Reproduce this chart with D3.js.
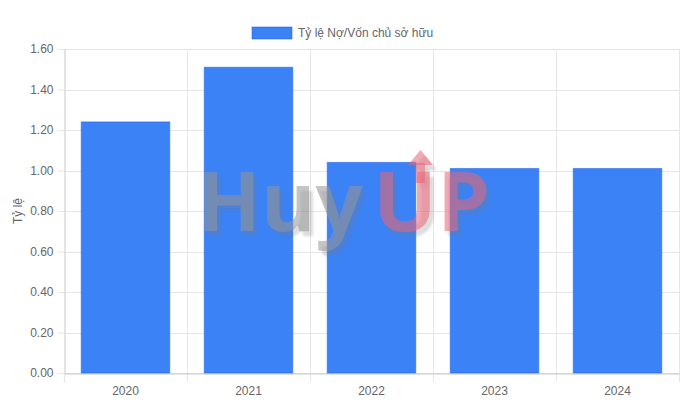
<!DOCTYPE html>
<html>
<head>
<meta charset="utf-8">
<script src="https://cdn.jsdelivr.net/npm/d3@7"></script>
<style>
  html, body { margin: 0; padding: 0; background: #fff; }
  svg { display: block; font-family: "Liberation Sans", Arial, Helvetica, sans-serif; }
</style>
</head>
<body>
<div id="chart"></div>
<script>
// Data
const years = ["2020", "2021", "2022", "2023", "2024"];
const debtToEquity = [1.24, 1.51, 1.04, 1.01, 1.01];
const yTicks = [0, 0.2, 0.4, 0.6, 0.8, 1.0, 1.2, 1.4, 1.6];
const seriesName = "Tỷ lệ Nợ/Vốn chủ sở hữu";
const yTitle = "Tỷ lệ";

const W = 686, H = 403;
const margin = { top: 49, right: 7, bottom: 30, left: 64 };
const innerW = W - margin.left - margin.right;
const innerH = H - margin.top - margin.bottom;

const svg = d3.select("#chart").append("svg")
    .attr("width", W)
    .attr("height", H);

// soft shadow used by the watermark
svg.append("defs").append("filter")
    .attr("id", "wmShadow")
    .attr("x", "-10%").attr("y", "-10%")
    .attr("width", "130%").attr("height", "130%")
    .append("feDropShadow")
    .attr("dx", 4).attr("dy", 5)
    .attr("stdDeviation", 0.8)
    .attr("flood-color", "#777")
    .attr("flood-opacity", 0.45);

const g = svg.append("g")
    .attr("transform", `translate(${margin.left},${margin.top})`);

const x = d3.scaleBand()
    .domain(years)
    .range([0, innerW]);

const y = d3.scaleLinear()
    .domain([0, 1.6])
    .range([innerH, 0]);

const gridColor = "#e6e6e6";
const axisColor = "#c8c8c8";
const textColor = "#666";

// horizontal grid
g.append("g")
    .selectAll("line")
    .data(yTicks)
    .join("line")
    .attr("x1", 0)
    .attr("x2", innerW)
    .attr("y1", d => Math.round(y(d)) + 0.5)
    .attr("y2", d => Math.round(y(d)) + 0.5)
    .attr("stroke", gridColor);

// vertical grid at category boundaries
const bounds = years.map(d => x(d)).concat([innerW]);
g.append("g")
    .selectAll("line")
    .data(bounds.slice(1))
    .join("line")
    .attr("x1", d => Math.round(d) + 0.5)
    .attr("x2", d => Math.round(d) + 0.5)
    .attr("y1", 0)
    .attr("y2", innerH + 9)
    .attr("stroke", gridColor);

// y axis
const yAxis = g.append("g")
    .attr("transform", "translate(0.5,0)")
    .call(d3.axisLeft(y).tickValues(yTicks).tickFormat(d3.format(".2f")).tickSize(7).tickSizeOuter(0));
yAxis.select(".domain").attr("stroke", axisColor);
yAxis.selectAll(".tick line").attr("stroke", gridColor);
yAxis.selectAll(".tick text")
    .attr("fill", textColor)
    .attr("font-size", 12)
    .attr("x", -11);

// x axis
const xAxis = g.append("g")
    .attr("transform", `translate(0,${Math.round(innerH) + 0.5})`)
    .call(d3.axisBottom(x).tickSize(0).tickSizeOuter(0));
xAxis.select(".domain").attr("stroke", axisColor);
xAxis.selectAll(".tick text")
    .attr("fill", textColor)
    .attr("font-size", 12)
    .attr("dy", 0)
    .attr("y", 21);
xAxis.append("line")
    .attr("x1", 0.5).attr("x2", 0.5)
    .attr("y1", 0).attr("y2", 9)
    .attr("stroke", gridColor);

// bars: categoryPercentage 0.8 * barPercentage 0.9
const barW = x.bandwidth() * 0.72;
g.append("g")
    .selectAll("rect")
    .data(debtToEquity)
    .join("rect")
    .attr("x", (d, i) => x(years[i]) + (x.bandwidth() - barW) / 2)
    .attr("y", d => y(d))
    .attr("width", barW)
    .attr("height", d => innerH - y(d))
    .attr("fill", "#3b82f6")
    .attr("stroke", "#2563eb")
    .attr("stroke-opacity", 0.55)
    .attr("stroke-width", 1);

// y title
svg.append("text")
    .attr("transform", `translate(22,${margin.top + innerH / 2}) rotate(-90)`)
    .attr("text-anchor", "middle")
    .attr("fill", textColor)
    .attr("font-size", 12)
    .text(yTitle);

// legend
const legend = svg.append("g").attr("transform", "translate(252,27)");
legend.append("rect")
    .attr("width", 40)
    .attr("height", 12)
    .attr("fill", "#3b82f6")
    .attr("stroke", "#2563eb")
    .attr("stroke-opacity", 0.55);
legend.append("text")
    .attr("x", 46)
    .attr("y", 10)
    .attr("fill", textColor)
    .attr("font-size", 12)
    .text(seriesName);

// watermark
const wm = svg.append("g").attr("pointer-events", "none")
    .attr("filter", "url(#wmShadow)")
    .attr("font-family", "'Open Sans', 'Noto Sans', sans-serif")
    .attr("font-weight", 700)
    .attr("font-size", 82);
wm.append("text").attr("x", 197).attr("y", 231)
    .attr("textLength", 166).attr("lengthAdjust", "spacingAndGlyphs")
    .attr("fill", "rgba(150,150,150,0.55)").text("Huy");
const up = wm.append("g").attr("fill", "rgba(232,100,120,0.55)");
up.append("text").attr("x", 373).attr("y", 231)
    .attr("textLength", 117).attr("lengthAdjust", "spacingAndGlyphs")
    .text("UP");
up.append("rect").attr("x", 416).attr("y", 163).attr("width", 9).attr("height", 20);
up.append("path").attr("d", "M408,165 L420.5,150 L433,165 Z");
</script>
</body>
</html>
